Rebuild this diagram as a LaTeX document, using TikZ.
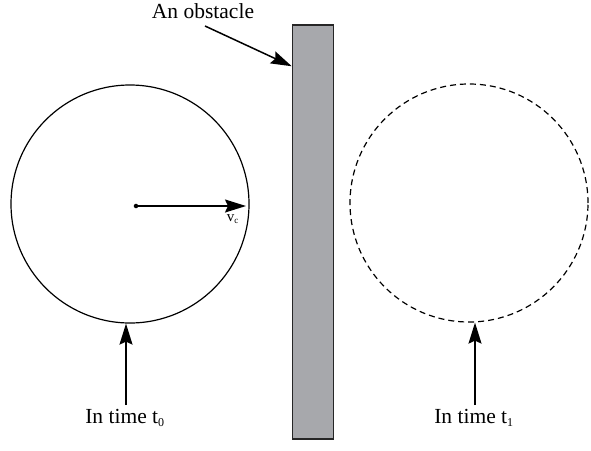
\documentclass[tikz,border=0pt]{standalone}
\usepackage{fontspec}
\setmainfont{Liberation Serif}
\usetikzlibrary{positioning, arrows.meta, calc}

\begin{document}
\begin{tikzpicture}[
    x=1pt, y=1pt,
    font=\fontsize{21.5}{25}\selectfont,
    ball/.style={circle, draw, line width=1.2pt, minimum size=238pt, inner sep=0pt},
    ghost/.style={ball, dashed, dash pattern=on 6pt off 4pt},
    wall/.style={rectangle, draw=black!85, line width=1.5pt, fill={rgb,255:red,167;green,168;blue,172}, minimum width=41pt, minimum height=414pt, inner sep=0pt},
    arrow/.style={-{Stealth[length=21pt, width=13pt, inset=3pt]}, line width=1.5pt},
    label/.style={inner sep=1pt},
]
\useasboundingbox (0,0) rectangle (591,-450);

%% NODES
    % the obstacle
    \node[wall] (obstacle) at (313,-232) {};
    \node[label] (obstacle_label) at (203,-11) {An obstacle};
    \coordinate (obstacle_tail) at (205,-26);
    \coordinate (obstacle_hit) at ($(obstacle.north west)+(0,-42)$);

    % ball in time t0
    \node[ball] (ball_t0) at (130,-204) {};
    \node[circle, fill, inner sep=1.6pt] (center_t0) at (136,-206) {};
    \coordinate (vel_end) at (246,-206);
    \node[label, font=\fontsize{15}{18}\selectfont, anchor=base east] (vel_label) at (240,-221) {v\textsubscript{\fontsize{9}{10}\selectfont c}};
    \node[label] (time_t0) at (125,-418) {In time t\textsubscript{\fontsize{12}{14}\selectfont 0}};
    \coordinate (foot_t0) at ($(time_t0.north)+(1,3)$);

    % ball in time t1
    \node[ghost] (ball_t1) at (469,-203) {};
    \node[label] (time_t1) at (474,-418) {In time t\textsubscript{\fontsize{12}{14}\selectfont 1}};
    \coordinate (foot_t1) at ($(time_t1.north)+(1,3)$);

%% ARROWS
    \draw[arrow] (obstacle_tail) -- (obstacle_hit);
    \draw[arrow, shorten <=-1pt] (center_t0.center) -- (vel_end);
    \draw[arrow] (foot_t0) -- (foot_t0 |- ball_t0.south);
    \draw[arrow] (foot_t1) -- (foot_t1 |- ball_t1.south);

\end{tikzpicture}
\end{document}
